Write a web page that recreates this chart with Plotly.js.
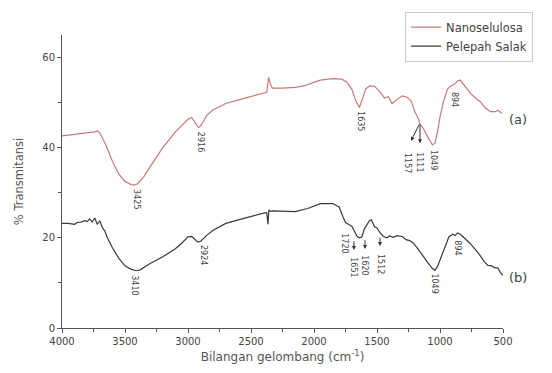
<!DOCTYPE html>
<html>
<head>
<meta charset="utf-8">
<script src="https://cdn.plot.ly/plotly-3.0.1.min.js"></script>
<style>
  html, body { margin: 0; padding: 0; background: #fff; }
  #chart { width: 552px; height: 373px; }
</style>
</head>
<body>
<div id="chart"></div>
<script>
// FTIR spectra: wavenumber (cm^-1) vs % transmittance
const waveNano = [4000, 3900, 3800, 3740, 3720, 3700, 3650, 3600, 3550, 3500, 3450, 3425, 3400, 3350, 3300, 3200, 3100, 3000, 2970, 2940, 2916, 2890, 2850, 2800, 2700, 2600, 2500, 2400, 2375, 2360, 2345, 2330, 2250, 2150, 2080, 2000, 1950, 1850, 1780, 1740, 1700, 1670, 1640, 1620, 1590, 1560, 1520, 1480, 1440, 1410, 1380, 1350, 1300, 1260, 1230, 1200, 1170, 1160, 1130, 1110, 1080, 1060, 1040, 1020, 1000, 970, 940, 920, 890, 860, 840, 800, 750, 700, 680, 640, 600, 560, 540, 510];
const transNano = [42.6, 42.9, 43.2, 43.5, 43.7, 43.3, 40.5, 37.0, 34.2, 32.5, 31.8, 31.7, 32.0, 33.6, 35.8, 40.0, 43.5, 46.3, 46.7, 45.5, 44.4, 45.2, 47.2, 48.4, 49.8, 50.6, 51.3, 52.0, 52.3, 55.6, 54.0, 53.2, 53.2, 53.4, 53.7, 54.5, 55.0, 55.3, 55.2, 54.6, 53.0, 50.5, 48.9, 50.5, 53.0, 53.7, 53.6, 52.5, 51.0, 51.3, 49.8, 50.5, 51.5, 51.2, 50.4, 48.0, 46.3, 45.3, 44.2, 43.0, 41.5, 40.6, 41.0, 43.5, 46.8, 50.5, 53.0, 53.6, 54.0, 54.8, 55.0, 53.5, 51.8, 50.6, 50.2, 48.8, 48.0, 48.0, 48.3, 47.6];

const waveSalak = [4000, 3950, 3900, 3880, 3850, 3820, 3800, 3780, 3760, 3740, 3720, 3700, 3680, 3660, 3640, 3600, 3550, 3500, 3450, 3410, 3380, 3300, 3200, 3100, 3050, 3000, 2970, 2940, 2924, 2900, 2850, 2800, 2700, 2600, 2500, 2400, 2375, 2365, 2358, 2345, 2330, 2250, 2150, 2050, 1950, 1850, 1800, 1770, 1750, 1720, 1700, 1680, 1660, 1640, 1620, 1600, 1560, 1545, 1520, 1500, 1480, 1450, 1420, 1400, 1370, 1340, 1300, 1270, 1240, 1210, 1180, 1150, 1100, 1060, 1040, 1020, 990, 960, 930, 900, 880, 860, 840, 800, 760, 700, 650, 620, 590, 570, 540, 520, 500];
const transSalak = [23.2, 23.2, 23.0, 23.4, 23.5, 23.8, 23.6, 24.2, 23.5, 24.4, 23.0, 23.8, 22.3, 21.5, 20.0, 17.8, 15.5, 13.8, 13.0, 12.7, 12.9, 14.3, 15.8, 17.6, 18.8, 20.2, 20.3, 19.6, 19.1, 19.2, 20.6, 21.7, 23.2, 24.0, 24.8, 25.5, 25.6, 23.0, 26.2, 25.9, 26.0, 25.9, 25.8, 26.5, 27.6, 27.6, 26.8, 24.7, 23.4, 22.9, 22.6, 21.5, 20.4, 20.0, 20.2, 22.0, 23.8, 24.0, 22.5, 22.2, 21.3, 20.3, 20.0, 20.4, 20.1, 20.5, 20.3, 19.6, 19.4, 18.8, 17.8, 16.6, 14.6, 13.2, 12.8, 13.6, 15.8, 18.0, 20.2, 20.8, 20.5, 21.1, 20.8, 19.8, 18.7, 16.8, 14.8, 13.9, 13.8, 13.4, 13.3, 12.3, 11.7];

const seriesNames = ['Nanoselulosa', 'Pelepah Salak'];
const seriesColors = ['#c97a78', '#3a3a3a'];

// Peak labels: [text, label x, label y]
const peakLabels = [
  ['3425', 3405, 28.6], ['2916', 2905, 41.3], ['1635', 1627, 45.9],
  ['1157', 1254, 36.6], ['1111', 1159, 36.8], ['1049', 1056, 37.3], ['894', 889, 50.6],
  ['3410', 3421, 9.5], ['2924', 2881, 16.2], ['1720', 1754, 18.8],
  ['1651', 1683, 13.5], ['1620', 1595, 13.9], ['1512', 1476, 14.2],
  ['1049', 1040, 9.9], ['894', 857, 17.9]
];
// Pointer arrows: [head x, head y, tail x, tail y]
const pointers = [
  [1230, 41.5, 1159, 45.5], [1159, 41.0, 1159, 45.5],
  [1683, 17.3, 1683, 19.6], [1595, 17.5, 1595, 19.8], [1476, 18.2, 1476, 20.4]
];
// Curve tags
const curveTags = [['(a)', 0.71], ['(b)', 0.171]];

const FONT = 'DejaVu Sans, sans-serif';

const traces = [
  { x: waveNano, y: transNano, name: seriesNames[0], type: 'scatter', mode: 'lines',
    line: { color: seriesColors[0], width: 1.2 } },
  { x: waveSalak, y: transSalak, name: seriesNames[1], type: 'scatter', mode: 'lines',
    line: { color: seriesColors[1], width: 1.2 } }
];

const annotations = [];
peakLabels.forEach(p => {
  annotations.push({
    text: p[0], x: p[1], y: p[2], xref: 'x', yref: 'y',
    showarrow: false, textangle: 90,
    font: { family: FONT, size: 8, color: '#444' },
    xanchor: 'center', yanchor: 'middle'
  });
});
pointers.forEach(a => {
  annotations.push({
    text: '', x: a[0], y: a[1], xref: 'x', yref: 'y',
    ax: a[2], ay: a[3], axref: 'x', ayref: 'y',
    showarrow: true, arrowhead: 2, arrowsize: 0.8, arrowwidth: 1,
    arrowcolor: '#333'
  });
});
curveTags.forEach(t => {
  annotations.push({
    text: t[0], x: 1.034, y: t[1], xref: 'paper', yref: 'paper',
    showarrow: false, xanchor: 'center', yanchor: 'middle',
    font: { family: FONT, size: 13, color: '#444' }
  });
});

const axisCommon = {
  showgrid: false, zeroline: false, showline: true,
  linecolor: '#555', linewidth: 1,
  ticks: 'outside', ticklen: 4, tickwidth: 1, tickcolor: '#555',
  tickfont: { family: FONT, size: 10, color: '#444' }
};

const layout = {
  width: 552, height: 373,
  margin: { l: 62, r: 49, t: 35, b: 45 },
  paper_bgcolor: '#fff', plot_bgcolor: '#fff',
  showlegend: true,
  legend: {
    x: 0.778, y: 1.08, xanchor: 'left', yanchor: 'top',
    bgcolor: '#fff', bordercolor: '#ccc', borderwidth: 1,
    font: { family: FONT, size: 11.5, color: '#444' },
    tracegroupgap: 0, itemwidth: 30
  },
  xaxis: Object.assign({}, axisCommon, {
    range: [4000, 500], dtick: 500, tick0: 500,
    minor: { dtick: 250, ticks: 'outside', ticklen: 3, tickcolor: '#555' },
    title: { text: 'Bilangan gelombang (cm<sup>-1</sup>)', standoff: 6,
             font: { family: FONT, size: 12, color: '#555' } }
  }),
  yaxis: Object.assign({}, axisCommon, {
    range: [0, 65], dtick: 20, tick0: 0,
    minor: { dtick: 10, ticks: 'outside', ticklen: 3, tickcolor: '#555' },
    title: { text: '% Transmitansi', standoff: 16,
             font: { family: FONT, size: 11.5, color: '#555' } }
  }),
  annotations: annotations
};

Plotly.newPlot('chart', traces, layout, { staticPlot: true, displayModeBar: false });
</script>
</body>
</html>
